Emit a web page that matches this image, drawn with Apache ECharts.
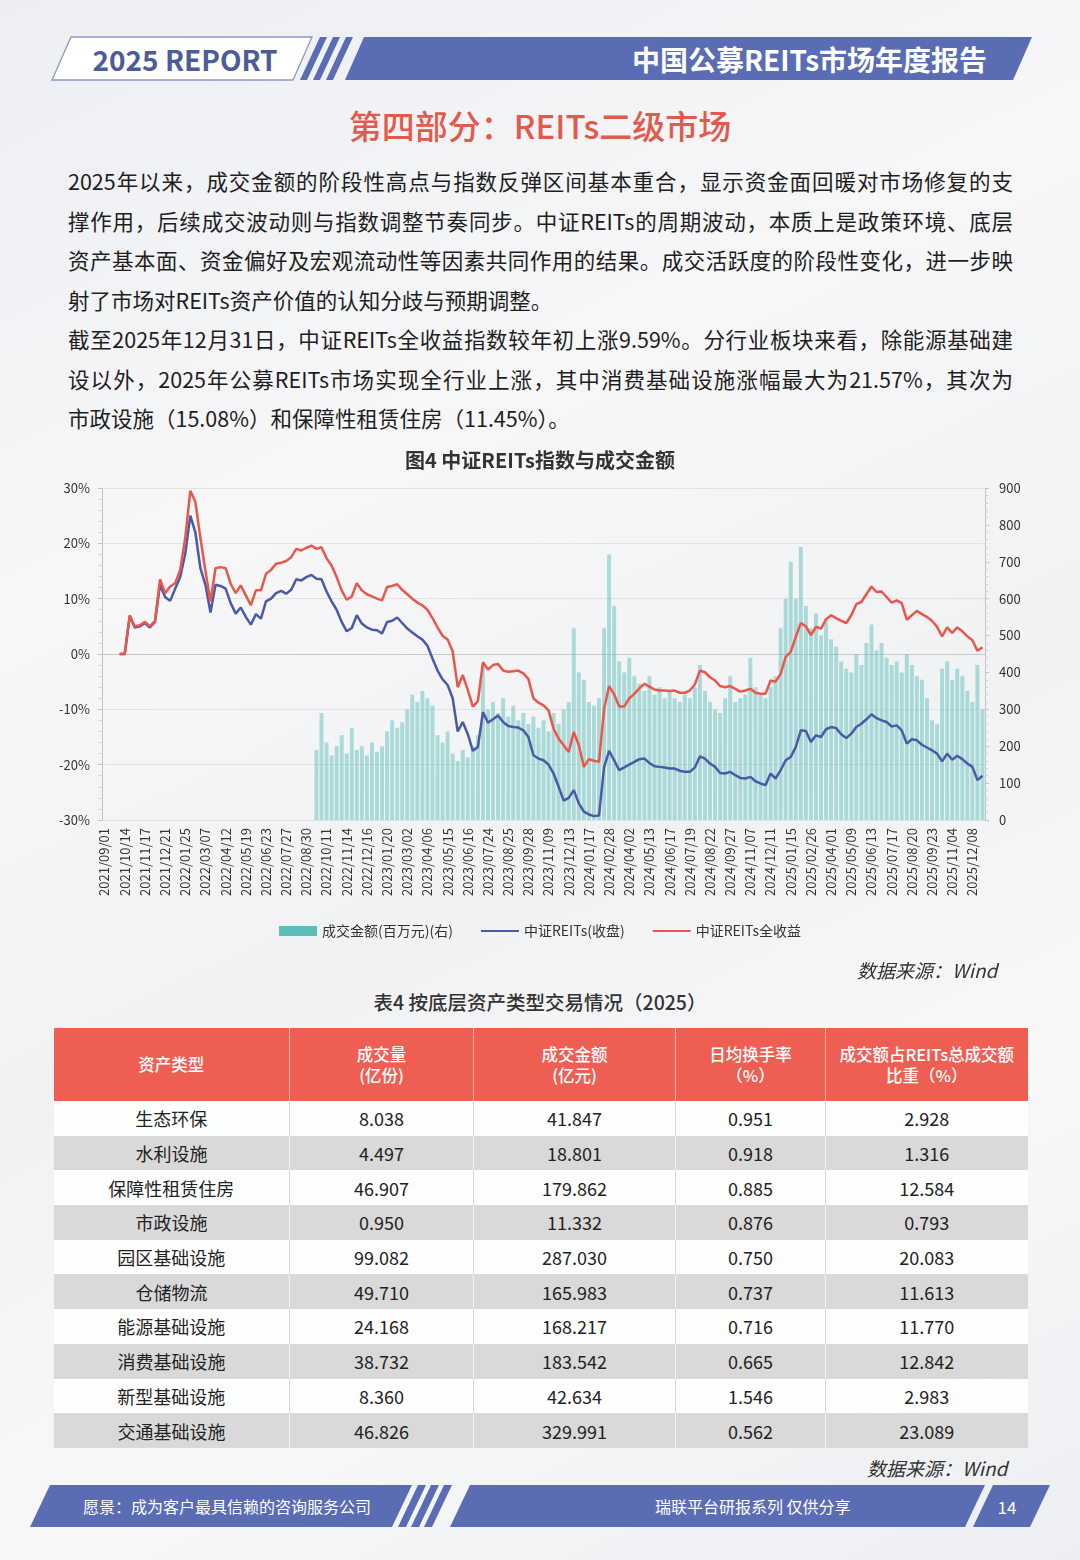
<!DOCTYPE html>
<html>
<head>
<meta charset="utf-8">
<script src="https://cdn.jsdelivr.net/npm/echarts@6/dist/echarts.min.js"></script>
<style>
html,body{margin:0;padding:0;}
body{width:1080px;height:1560px;position:relative;overflow:hidden;
  font-family:"Noto Sans CJK SC","Noto Sans",sans-serif;color:#1e1e1e;
  background:linear-gradient(155deg,#eceef2 0%,#f7f7f8 30%,#f1f2f4 55%,#f8f8f9 75%,#eceef1 100%);}
.abs{position:absolute;}
.pline{position:absolute;left:68px;width:945px;font-size:21.5px;line-height:39.5px;height:39.5px;
  text-align:justify;text-align-last:justify;white-space:nowrap;color:#1e1e1e;}
.pline.last{text-align-last:left;}
table.t{position:absolute;left:53px;top:1028px;width:974px;border-collapse:collapse;table-layout:fixed;}
table.t th{background:#ef5e52;color:#fff;font-weight:500;font-size:16.5px;line-height:21px;height:73px;padding:0;
  border-left:1px solid rgba(255,255,255,0.55);}
table.t th:first-child{border-left:none;}
table.t td{height:34.7px;padding:0;text-align:center;font-size:18px;color:#222;border-left:1px solid #d6d6d6;}
table.t td:first-child{border-left:none;}
table.t tr.g td{background:#d9d9d9;border-left:1px solid #f2f2f2;}
table.t tr.w td{background:rgba(255,255,255,0.85);}
.src{position:absolute;font-size:19px;font-style:italic;color:#333;}
</style>
</head>
<body>
<svg class="abs" style="left:0;top:0" width="1080" height="1560">
  <!-- header -->
  <polygon points="71,37 312,37 293,80 52,80" fill="#ffffff" stroke="#8f97c2" stroke-width="1.3"/>
  <polygon points="320,37 327,37 307,80 300,80" fill="#5a6cb4"/>
  <polygon points="333,37 340,37 320,80 313,80" fill="#5a6cb4"/>
  <polygon points="346,37 353,37 333,80 326,80" fill="#5a6cb4"/>
  <polygon points="364,37 1032,37 1013,80 345,80" fill="#5a6cb4"/>
  <!-- footer -->
  <polygon points="50,1485 412,1485 392,1527 30,1527" fill="#5a6cb4"/>
  <polygon points="418,1485 426,1485 406,1527 398,1527" fill="#5a6cb4"/>
  <polygon points="431,1485 439,1485 419,1527 411,1527" fill="#5a6cb4"/>
  <polygon points="444,1485 452,1485 432,1527 424,1527" fill="#5a6cb4"/>
  <polygon points="470,1485 985,1485 965,1527 450,1527" fill="#5a6cb4"/>
  <polygon points="993,1485 1050,1485 1030,1527 973,1527" fill="#5a6cb4"/>
</svg>

<div class="abs" style="left:60px;top:38px;width:250px;text-align:center;line-height:42px;font-size:28px;font-weight:bold;color:#4e5b9b;">2025 REPORT</div>
<div class="abs" style="right:93px;top:38px;line-height:42px;font-size:28px;font-weight:bold;color:#fff;">中国公募REITs市场年度报告</div>
<div class="abs" style="left:0;width:1080px;top:104px;text-align:center;line-height:42px;font-size:33px;font-weight:500;color:#e25a4b;">第四部分：REITs二级市场</div>

<div class="pline" style="top:161px;">2025年以来，成交金额的阶段性高点与指数反弹区间基本重合，显示资金面回暖对市场修复的支</div>
<div class="pline" style="top:200.5px;">撑作用，后续成交波动则与指数调整节奏同步。中证REITs的周期波动，本质上是政策环境、底层</div>
<div class="pline" style="top:240px;">资产基本面、资金偏好及宏观流动性等因素共同作用的结果。成交活跃度的阶段性变化，进一步映</div>
<div class="pline last" style="top:279.5px;">射了市场对REITs资产价值的认知分歧与预期调整。</div>
<div class="pline" style="top:319px;">截至2025年12月31日，中证REITs全收益指数较年初上涨9.59%。分行业板块来看，除能源基础建</div>
<div class="pline" style="top:358.5px;">设以外，2025年公募REITs市场实现全行业上涨，其中消费基础设施涨幅最大为21.57%，其次为</div>
<div class="pline last" style="top:398px;">市政设施（15.08%）和保障性租赁住房（11.45%）。</div>

<div id="chart" class="abs" style="left:0;top:440px;width:1080px;height:520px;"></div>

<div class="src" style="left:857px;top:956px;">数据来源：Wind</div>
<div class="abs" style="left:0;width:1080px;top:988px;text-align:center;font-size:19.5px;line-height:28px;font-weight:500;color:#333;">表4 按底层资产类型交易情况（2025）</div>

<table class="t" id="tbl">
  <colgroup><col style="width:236px"><col style="width:184px"><col style="width:202px"><col style="width:150px"><col style="width:202px"></colgroup>
  <thead><tr id="thr"></tr></thead>
  <tbody id="tb"></tbody>
</table>

<div class="src" style="left:867px;top:1454px;">数据来源：Wind</div>

<div class="abs" style="left:83px;top:1485px;line-height:42px;font-size:16px;color:#fff;">愿景：成为客户最具信赖的咨询服务公司</div>
<div class="abs" style="left:655px;top:1485px;line-height:42px;font-size:16px;color:#fff;">瑞联平台研报系列 仅供分享</div>
<div class="abs" style="left:992px;width:30px;text-align:center;top:1486px;line-height:42px;font-size:17px;color:#fff;">14</div>

<script>
// ---------- chart data ----------
const dateLabels = ['2021/09/01','2021/10/14','2021/11/17','2021/12/21','2022/01/25','2022/03/07','2022/04/12','2022/05/19','2022/06/23','2022/07/27','2022/08/30','2022/10/11','2022/11/14','2022/12/16','2023/01/20','2023/03/02','2023/04/06','2023/05/15','2023/06/16','2023/07/24','2023/08/25','2023/09/28','2023/11/09','2023/12/13','2024/01/17','2024/02/28','2024/04/02','2024/05/13','2024/06/17','2024/07/19','2024/08/22','2024/09/27','2024/11/07','2024/12/11','2025/01/15','2025/02/26','2025/04/01','2025/05/09','2025/06/13','2025/07/17','2025/08/20','2025/09/23','2025/11/04','2025/12/08'];

const leftTicks = [-30,-20,-10,0,10,20,30];
const rightTicks = [0,100,200,300,400,500,600,700,800,900];

// 中证REITs全收益 (%)
const reitsTotal = [
null,null,null,0,0,7.0,5.0,5.2,5.8,5.0,
6.0,13.5,11.0,12.2,12.8,15.2,21.0,29.5,27.5,21.0,
15.0,9.5,15.5,15.7,15.5,12.7,11.0,12.4,10.6,8.8,
11.5,11.5,14.5,15.2,16.3,16.5,16.8,17.5,19.0,18.7,
19.2,19.6,19.0,19.3,17.3,16.0,13.9,11.5,9.8,10.4,
12.8,11.5,10.8,10.4,10.0,9.7,12.1,12.3,12.6,11.6,
10.8,10.0,9.3,8.8,8.0,6.5,4.8,3.3,2.6,0.5,
-6.0,-3.8,-6.5,-9.5,-8.5,-1.5,-2.8,-2.0,-1.8,-3.0,
-3.2,-3.1,-3.0,-3.5,-4.5,-8.0,-8.8,-9.3,-10.2,-13.5,
-15.3,-16.5,-17.7,-14.1,-16.5,-20.4,-19.0,-19.3,-19.5,-10.0,
-5.8,-7.3,-9.5,-9.5,-8.0,-7.2,-6.2,-5.4,-5.9,-6.4,
-6.6,-6.6,-6.7,-6.6,-7.0,-7.0,-6.6,-5.5,-3.0,-3.3,
-4.2,-4.8,-5.8,-6.0,-5.8,-6.3,-6.8,-6.6,-6.3,-7.0,
-7.2,-7.2,-4.8,-5.0,-3.6,-0.5,0.4,3.1,5.6,5.0,
3.4,4.9,4.6,6.3,7.0,6.5,6.0,5.6,7.0,9.0,
9.4,10.8,12.2,11.2,11.3,10.3,9.3,9.7,9.2,6.2,
7.0,7.8,7.2,6.7,6.0,4.9,3.2,4.8,3.8,4.8,
4.1,3.2,2.5,0.6,1.2];

// 中证REITs(收盘) (%)
const reitsClose = [
null,null,null,0,0,6.8,4.8,5.0,5.6,4.8,
5.8,12.5,10.3,9.6,11.8,13.9,18.1,25.0,22.0,15.5,
12.5,7.5,12.5,12.3,11.8,9.2,7.3,8.4,6.7,5.3,
7.2,6.4,9.5,10.0,11.0,11.4,10.9,11.6,13.5,13.3,
13.9,14.3,13.6,13.5,11.3,9.5,8.0,5.8,4.1,4.7,
7.0,5.5,4.8,4.4,4.3,3.7,5.8,6.0,6.6,5.6,
4.6,3.9,3.2,2.6,1.5,-0.8,-3.0,-4.6,-5.6,-8.0,
-14.0,-12.3,-14.5,-17.5,-16.8,-10.5,-12.4,-11.8,-11.1,-12.3,
-13.0,-13.2,-13.3,-13.8,-15.0,-18.3,-18.9,-19.2,-20.0,-21.6,
-24.0,-26.5,-26.0,-24.6,-27.0,-28.5,-29.0,-29.3,-29.2,-20.5,
-17.5,-19.2,-21.0,-20.5,-20.0,-19.5,-19.0,-18.9,-19.7,-20.3,
-20.4,-20.5,-20.7,-20.7,-21.1,-21.3,-21.3,-20.5,-18.5,-18.9,
-19.8,-20.4,-21.5,-21.6,-21.3,-21.9,-22.4,-22.5,-22.2,-23.0,
-23.4,-23.7,-21.6,-22.5,-21.0,-19.2,-18.6,-16.8,-13.8,-13.9,
-15.9,-14.7,-15.0,-13.6,-13.2,-13.4,-14.5,-15.2,-14.4,-13.2,
-12.6,-11.8,-10.9,-11.6,-12.0,-12.3,-13.1,-12.9,-13.8,-16.2,
-15.4,-15.6,-16.4,-16.9,-17.4,-18.0,-19.4,-18.0,-19.1,-18.4,
-19.0,-19.8,-20.4,-22.8,-22.0];

// 成交金额(百万元) — shown from the period where turnover is plotted
const turnoverValues = [
190,290,210,175,200,230,180,250,190,200,
175,210,185,200,240,270,250,265,300,340,
320,350,330,310,230,210,240,180,160,190,
170,200,230,420,300,320,290,330,280,310,
270,290,260,280,250,270,240,290,260,300,
320,520,400,380,320,310,330,520,720,580,
430,400,440,390,370,350,390,340,360,330,
350,330,320,340,330,360,420,350,320,300,
290,330,390,320,330,340,440,360,340,330,
360,390,520,600,700,600,740,580,520,560,
500,540,490,470,430,410,400,450,420,480,
530,460,480,440,420,430,400,450,420,390,
380,330,270,260,410,430,380,410,390,350,
320,420,300];

// ---------- table data ----------
const tableHeaders = ['资产类型','成交量<br>(亿份)','成交金额<br>(亿元)','日均换手率<br>（%）','成交额占REITs总成交额<br>比重（%）'];
const assetTypes = ['生态环保','水利设施','保障性租赁住房','市政设施','园区基础设施','仓储物流','能源基础设施','消费基础设施','新型基础设施','交通基础设施'];
const volumeShares = ['8.038','4.497','46.907','0.950','99.082','49.710','24.168','38.732','8.360','46.826'];
const turnoverAmount = ['41.847','18.801','179.862','11.332','287.030','165.983','168.217','183.542','42.634','329.991'];
const dailyTurnoverRate = ['0.951','0.918','0.885','0.876','0.750','0.737','0.716','0.665','1.546','0.562'];
const amountShare = ['2.928','1.316','12.584','0.793','20.083','11.613','11.770','12.842','2.983','23.089'];

// build table
document.getElementById('thr').innerHTML = tableHeaders.map(h => '<th>' + h + '</th>').join('');
document.getElementById('tb').innerHTML = assetTypes.map((a, i) =>
  '<tr class="' + (i % 2 ? 'g' : 'w') + '"><td>' + a + '</td><td>' + volumeShares[i] + '</td><td>' + turnoverAmount[i] +
  '</td><td>' + dailyTurnoverRate[i] + '</td><td>' + amountShare[i] + '</td></tr>').join('');

// build category axis: each labelled date followed by unlabeled sample slots
const categories = [];
dateLabels.forEach((d, k) => {
  categories.push(d);
  if (k < dateLabels.length - 1) categories.push('', '', '');
});
while (categories.length < reitsTotal.length) categories.push('');
const turnover = new Array(reitsTotal.length - turnoverValues.length).fill(null).concat(turnoverValues);

const FONT = '"Noto Sans CJK SC","Noto Sans",sans-serif';
const LINE_ICON = 'path://M0,0 L40,0 L40,2 L0,2 Z';
const chart = echarts.init(document.getElementById('chart'));
chart.setOption({
  animation: false,
  textStyle: { fontFamily: FONT },
  title: { text: '图4 中证REITs指数与成交金额', left: 'center', top: 5,
    textStyle: { fontSize: 20, fontWeight: 'bold', color: '#333', fontFamily: FONT } },
  legend: {
    top: 479, left: 'center', itemWidth: 38, itemHeight: 10, itemGap: 28, symbolKeepAspect: true,
    textStyle: { fontSize: 14, color: '#333', fontFamily: FONT },
    data: [
      { name: '成交金额(百万元)(右)', icon: 'rect', itemStyle: { color: '#5dbdb8' } },
      { name: '中证REITs(收盘)', icon: LINE_ICON },
      { name: '中证REITs全收益', icon: LINE_ICON }
    ]
  },
  grid: { left: 102, right: 95, top: 48, bottom: 140 },
  xAxis: {
    type: 'category', data: categories, boundaryGap: true,
    axisLine: { lineStyle: { color: '#c8c8c8' } },
    axisTick: { show: false },
    axisLabel: { rotate: 90, interval: (i, v) => v !== '', fontSize: 13, color: '#333', margin: 8, fontFamily: FONT }
  },
  yAxis: [
    { type: 'value', min: leftTicks[0], max: leftTicks[leftTicks.length - 1], interval: leftTicks[1] - leftTicks[0],
      axisLabel: { formatter: '{value}%', fontSize: 13, color: '#333', margin: 12, fontFamily: FONT },
      axisLine: { show: true, lineStyle: { color: '#c4c4c4' } },
      axisTick: { show: true, length: 4, lineStyle: { color: '#c4c4c4' } },
      minorTick: { show: true, splitNumber: 5, length: 3, lineStyle: { color: '#d0d0d0' } },
      splitLine: { show: true, lineStyle: { color: '#e2e2e2' } } },
    { type: 'value', position: 'right', min: rightTicks[0], max: rightTicks[rightTicks.length - 1], interval: rightTicks[1] - rightTicks[0],
      axisLabel: { fontSize: 13, color: '#333', margin: 14, fontFamily: FONT },
      axisLine: { show: true, lineStyle: { color: '#c4c4c4' } },
      axisTick: { show: true, length: 4, lineStyle: { color: '#c4c4c4' } },
      minorTick: { show: true, splitNumber: 5, length: 3, lineStyle: { color: '#d0d0d0' } },
      splitLine: { show: false } }
  ],
  series: [
    { name: '成交金额(百万元)(右)', type: 'bar', yAxisIndex: 1, data: turnover, barCategoryGap: '22%',
      itemStyle: { color: 'rgba(96,192,188,0.5)' }, z: 1 },
    { name: '中证REITs(收盘)', type: 'line', data: reitsClose, symbol: 'none',
      lineStyle: { width: 2.5, color: '#4a5aa7' }, itemStyle: { color: '#4a5aa7' }, z: 3 },
    { name: '中证REITs全收益', type: 'line', data: reitsTotal, symbol: 'none',
      lineStyle: { width: 2.5, color: '#e9574a' }, itemStyle: { color: '#e9574a' }, z: 4 }
  ]
});
</script>
</body>
</html>
